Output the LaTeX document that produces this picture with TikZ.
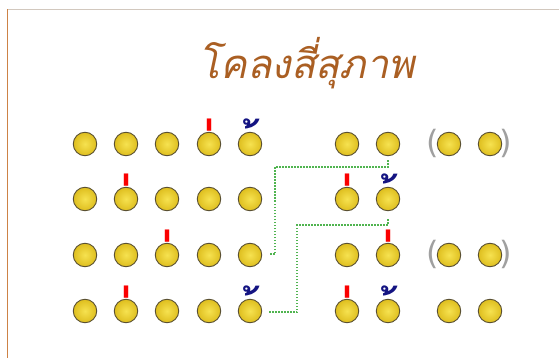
\documentclass[tikz,border=0pt]{standalone}
\usepackage{fontspec}
\newfontfamily\thaifont[Script=Thai]{Loma}
\newfontfamily\markfont{Loma}
\newfontfamily\parfont{DejaVu Sans}
\definecolor{titlebrown}{RGB}{170,95,35}
\definecolor{framegray}{RGB}{210,200,190}
\definecolor{frameorange}{RGB}{205,130,70}
\definecolor{ballhi}{RGB}{246,226,80}
\definecolor{balllo}{RGB}{222,190,30}
\definecolor{ballline}{RGB}{90,80,50}
\definecolor{markblue}{RGB}{20,20,130}
\definecolor{markred}{RGB}{250,0,0}
\definecolor{conngreen}{RGB}{80,180,80}
\definecolor{pargray}{RGB}{160,160,160}
\newcommand{\maiek}{\scalebox{0.65}[1.5]{\raisebox{-55pt}[10pt][0pt]{\makebox[12pt][l]{\kern14pt ่}}}}
\newcommand{\maitho}{\raisebox{-40pt}[10pt][0pt]{\makebox[14pt][l]{\kern15pt ้}}}
\begin{document}
\begin{tikzpicture}[x=1pt,y=-1pt,
  ball/.style={circle,minimum size=23.5pt,inner sep=0pt,draw=ballline,line width=0.9pt,inner color=ballhi,outer color=balllo},
  redmark/.style={inner sep=0pt,text=markred,font=\markfont\bfseries\fontsize{60}{60}\selectfont},
  bluemark/.style={inner sep=0pt,text=markblue,font=\markfont\bfseries\fontsize{45}{45}\selectfont},
  paren/.style={inner sep=0pt,text=pargray,font=\parfont\fontsize{32}{32}\selectfont},
  conn/.style={draw=conngreen,line width=1.5pt,dash pattern=on 1.5pt off 1.5pt},
  title/.style={inner sep=0pt,text=titlebrown,font=\thaifont\itshape\fontsize{40}{40}\selectfont}]
\useasboundingbox (0,0) rectangle (559,358);
\fill[white] (0,0) rectangle (559,358);
\draw[framegray,line width=1pt] (7,9.5) -- (559,9.5);
\draw[frameorange,line width=1pt] (7,9.5) -- (7,358);
\node[title] (t) at (307,63) {โคลงสี่สุภาพ};
% balls
\foreach \r/\y in {1/144,2/199,3/255,4/311}{
  \foreach \c/\x in {1/85,2/126,3/167,4/209,5/250,6/347,7/388}{
    \node[ball] (b\r\c) at (\x,\y) {};
  }
}
\foreach \r/\y in {1/144,3/255,4/311}{
  \foreach \c/\x in {8/449,9/490}{
    \node[ball] (b\r\c) at (\x,\y) {};
  }
}
% parentheses
\node[paren] (p1l) at (433,143) {(};
\node[paren] (p1r) at (506,143) {)};
\node[paren] (p3l) at (433,254) {(};
\node[paren] (p3r) at (506,254) {)};
% tone marks
\node[redmark] (m14) at ([yshift=10pt]b14.north) {\maiek};
\node[bluemark] (m15) at ([yshift=10pt]b15.north) {\maitho};
\node[redmark] (m22) at ([yshift=10pt]b22.north) {\maiek};
\node[redmark] (m26) at ([yshift=10pt]b26.north) {\maiek};
\node[bluemark] (m27) at ([yshift=10pt]b27.north) {\maitho};
\node[redmark] (m33) at ([yshift=10pt]b33.north) {\maiek};
\node[redmark] (m37) at ([yshift=10pt]b37.north) {\maiek};
\node[redmark] (m42) at ([yshift=10pt]b42.north) {\maiek};
\node[bluemark] (m45) at ([yshift=10pt]b45.north) {\maitho};
\node[redmark] (m46) at ([yshift=10pt]b46.north) {\maiek};
\node[bluemark] (m47) at ([yshift=10pt]b47.north) {\maitho};
% connectors
\draw[conn] ([xshift=8pt,yshift=1pt]b35.east) -- ++(5,0) |- ([yshift=-11pt]b17.south) -- ([yshift=-3pt]b17.south);
\draw[conn] ([xshift=7pt,yshift=-1pt]b45.east) -- ++(28,0) |- ([yshift=-14pt]b27.south) -- ([yshift=-7pt]b27.south);
\end{tikzpicture}
\end{document}
